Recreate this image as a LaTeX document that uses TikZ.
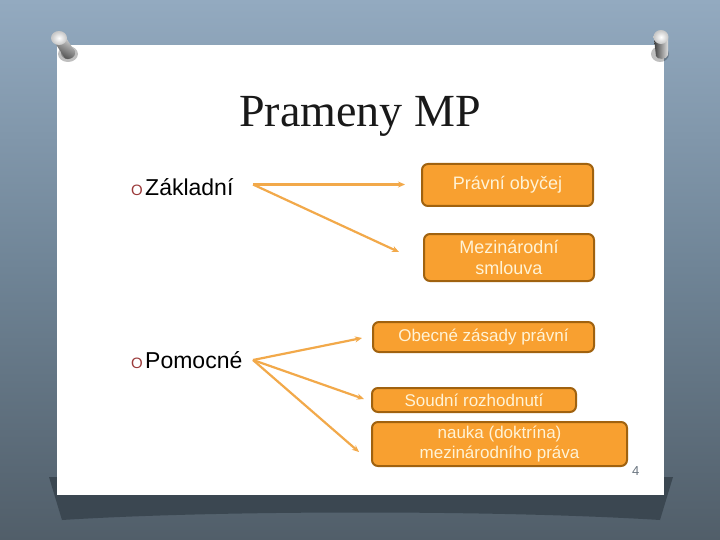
\documentclass[tikz,border=0pt]{standalone}
\usepackage{fontspec}
\setmainfont{Liberation Serif}
\setsansfont{Liberation Sans}
\usetikzlibrary{arrows.meta,calc,shapes.geometric}
\definecolor{bgtop}{HTML}{93AAC0}
\definecolor{bgmid}{HTML}{6F8496}
\definecolor{bgbot}{HTML}{515E69}
\definecolor{shadowc}{HTML}{3B4751}
\definecolor{boxfill}{HTML}{F8A030}
\definecolor{boxline}{HTML}{A0620F}
\definecolor{boxtext}{HTML}{FFF3D6}
\definecolor{arrowc}{HTML}{F2A94A}
\definecolor{bulletc}{HTML}{9B3A3A}
\definecolor{pagenum}{HTML}{6A7580}
\tikzset{
  srcbox/.style={draw=boxline, line width=2pt, fill=boxfill, rounded corners=6pt,
    text=boxtext, inner sep=0pt, align=center,
    font=\sffamily\fontsize{17}{20.5}\selectfont},
  arr/.style={draw=arrowc, line width=2.2pt, -{Stealth[length=7pt,width=6pt]}},
  bul/.style={anchor=base west, text=bulletc, inner sep=0pt, font=\sffamily\fontsize{15}{15}\selectfont},
  item/.style={anchor=base west, inner sep=0pt, font=\sffamily\fontsize{23}{26}\selectfont},
}
\begin{document}
\begin{tikzpicture}[x=1pt,y=-1pt]
\useasboundingbox (0,0) rectangle (720,540);
% background
\shade[top color=bgtop, bottom color=bgmid] (0,0) rectangle (720,270);
\shade[top color=bgmid, bottom color=bgbot] (0,270) rectangle (720,540);
% shadow under paper
\fill[shadowc] (49,477) -- (673,477) -- (660,520) .. controls (500,510) and (220,510) .. (62,520) -- cycle;
% paper
\fill[white] (57,45) rectangle (664,495);
% left pin
\fill[black, opacity=0.25] (68,54) ellipse (10pt and 8pt);
\fill[black, opacity=0.3] (68,53) ellipse (7pt and 6pt);
\shade[left color=gray!25, right color=black!75, shading angle=-30] (54,41.3) -- (64,34.7) -- (75,51.7) .. controls (76,57) and (68,61) .. (65,58.3) -- cycle;
\shade[inner color=white, outer color=gray!45] (59,38) ellipse (8pt and 7pt);
% right pin
\fill[black, opacity=0.25] (660,54) ellipse (9pt and 8pt);
\shade[left color=black!75, right color=gray!25] (654,38) -- (668,38) -- (668,55) .. controls (667,60) and (657,60) .. (656,56) -- cycle;
\shade[inner color=white, outer color=gray!45] (661,37) ellipse (7.5pt and 7pt);
% title
\node[anchor=base, inner sep=0pt, text=black!90, font=\fontsize{46}{50}\selectfont] (title) at (360,127) {Prameny MP};
% bullets
\node[bul] (o1) at (131,196) {O};
\node[item] (zakl) at (145,196) {Základní};
\node[bul] (o2) at (131,368) {O};
\node[item] (pom) at (145,368) {Pomocné};
% boxes
\node[srcbox, minimum width=171pt, minimum height=42pt, font=\sffamily\fontsize{18}{21}\selectfont] (b1) at (507.5,185) {Právní obyčej};
\node[srcbox, minimum width=170pt, minimum height=47pt, font=\sffamily\fontsize{18}{21}\selectfont] (b2) at (509,257.5) {Mezinárodní\\smlouva};
\node[srcbox, minimum width=221pt, minimum height=30pt] (b3) at (483.5,337) {Obecné zásady právní};
\node[srcbox, minimum width=204pt, minimum height=24pt] (b4) at (474,400) {Soudní rozhodnutí};
\node[srcbox, minimum width=255pt, minimum height=44pt] (b5) at (499.5,444) {nauka (doktrína)\\mezinárodního práva};
% connector start points
\coordinate (zs) at (253,184.5);
\coordinate (ps) at (253,360);
\draw[arr] (zs) -- ($(b1.west)+(-16,-0.5)$);
\draw[arr] (zs) -- ($(b2.west)+(-24,-5.5)$);
\draw[arr] (ps) -- ($(b3.west)+(-10,1)$);
\draw[arr] (ps) -- ($(b4.west)+(-7,-1)$);
\draw[arr] (ps) -- ($(b5.west)+(-12,8)$);
% page number
\node[anchor=base west, inner sep=0pt, text=pagenum, font=\sffamily\fontsize{13}{13}\selectfont] (pn) at (632,475) {4};
\end{tikzpicture}
\end{document}
